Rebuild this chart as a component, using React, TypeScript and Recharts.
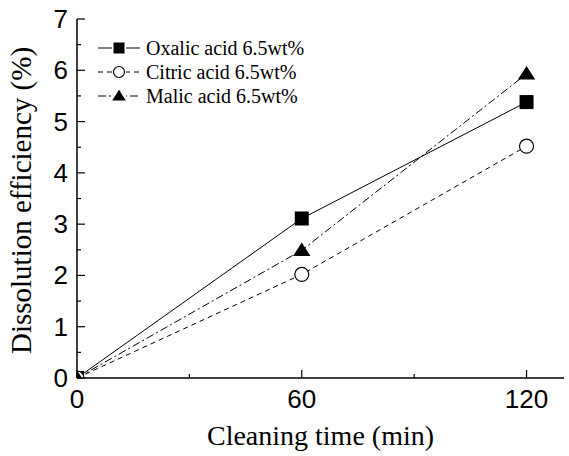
import { LineChart, Line, XAxis, YAxis, Legend } from 'recharts';

// cleaning time (min)
const times = [0, 60, 120];
// dissolution efficiency (%)
const oxalic = [0, 3.11, 5.38];
const citric = [0, 2.02, 4.52];
const malic = [0, 2.49, 5.93];

const xTicks = [0, 30, 60, 90, 120];
const xMajor = [0, 60, 120];
const yTicks = [0, 0.5, 1, 1.5, 2, 2.5, 3, 3.5, 4, 4.5, 5, 5.5, 6, 6.5, 7];
const yMajor = [0, 1, 2, 3, 4, 5, 6, 7];

const data = times.map((t, i) => ({ t, oxalic: oxalic[i], citric: citric[i], malic: malic[i] }));

const SANS = '"Liberation Sans", Arial, sans-serif';
const SERIF = '"Liberation Serif", "Times New Roman", serif';

const series = [
  { key: 'oxalic', name: 'Oxalic acid 6.5wt%', dash: undefined, marker: 'square' },
  { key: 'citric', name: 'Citric acid 6.5wt%', dash: '5 4', marker: 'circle' },
  { key: 'malic', name: 'Malic acid 6.5wt%', dash: '8 3 2 3', marker: 'triangle' },
];

function Marker({ type, cx, cy, s }: { type: string; cx: number; cy: number; s: number }) {
  if (type === 'square') return <rect x={cx - s / 2} y={cy - s / 2} width={s} height={s} fill="#000" />;
  if (type === 'circle') return <circle cx={cx} cy={cy} r={s / 2} fill="#fff" stroke="#000" strokeWidth={1.2} />;
  const h = s * 0.9;
  return (
    <polygon
      points={`${cx},${cy - h * 0.62} ${cx - s * 0.62},${cy + h * 0.45} ${cx + s * 0.62},${cy + h * 0.45}`}
      fill="#000"
    />
  );
}

function BottomTick({ x, y, payload }: any) {
  const major = xMajor.includes(payload.value);
  return (
    <g>
      <line x1={x} x2={x} y1={y} y2={y - (major ? 8 : 4)} stroke="#000" strokeWidth={1.2} />
      {major && (
        <text x={x} y={y + 30} textAnchor="middle" fontFamily={SANS} fontSize={26} fill="#000">
          {payload.value}
        </text>
      )}
    </g>
  );
}

function TopTick({ x, y, payload }: any) {
  const major = xMajor.includes(payload.value);
  return <line x1={x} x2={x} y1={y} y2={y + (major ? 8 : 4)} stroke="#000" strokeWidth={1.2} />;
}

function LeftTick({ x, y, payload }: any) {
  const major = yMajor.includes(payload.value);
  return (
    <g>
      <line x1={x} x2={x + (major ? 8 : 4)} y1={y} y2={y} stroke="#000" strokeWidth={1.2} />
      {major && (
        <text x={x - 9} y={y + 9} textAnchor="end" fontFamily={SANS} fontSize={26} fill="#000">
          {payload.value}
        </text>
      )}
    </g>
  );
}

function RightTick({ x, y, payload }: any) {
  const major = yMajor.includes(payload.value);
  return <line x1={x} x2={x - (major ? 8 : 4)} y1={y} y2={y} stroke="#000" strokeWidth={1.2} />;
}

function YTitle({ viewBox }: any) {
  const cx = 31;
  const cy = viewBox.y + viewBox.height / 2 + 2;
  return (
    <text
      x={cx}
      y={cy}
      transform={`rotate(-90, ${cx}, ${cy})`}
      textAnchor="middle"
      fontFamily={SERIF}
      fontSize={29}
      fill="#000"
    >
      Dissolution efficiency (%)
    </text>
  );
}

function LegendBox() {
  return (
    <div style={{ fontFamily: SERIF, fontSize: 20, lineHeight: '24px', color: '#000', whiteSpace: 'nowrap' }}>
      {series.map((s) => (
        <div key={s.key} style={{ display: 'flex', alignItems: 'center', height: 24 }}>
          <svg width={46} height={20} style={{ marginRight: 4 }}>
            <line x1={2} x2={44} y1={10} y2={10} stroke="#000" strokeWidth={1} strokeDasharray={s.dash} />
            <rect x={16} y={2} width={14} height={16} fill="#fff" />
            <Marker type={s.marker} cx={23} cy={10} s={11} />
          </svg>
          <span>{s.name}</span>
        </div>
      ))}
    </div>
  );
}

export default function App() {
  return (
    <div style={{ position: 'absolute', left: 0, top: 0, background: '#fff' }}>
      <LineChart width={569} height={456} data={data} margin={{ top: 19, right: 5, left: 0, bottom: 0 }}>
        <XAxis
          dataKey="t"
          type="number"
          domain={[0, 130]}
          ticks={xTicks}
          interval={0}
          allowDataOverflow
          tickSize={0}
          tickMargin={0}
          tickLine={false}
          tick={<BottomTick />}
          height={78}
          axisLine={{ stroke: '#000', strokeWidth: 1.5 }}
          label={{
            value: 'Cleaning time (min)',
            position: 'insideBottom',
            offset: 11,
            style: { fontFamily: SERIF, fontSize: 28, fill: '#000' },
          }}
        />
        <XAxis
          xAxisId="top"
          orientation="top"
          dataKey="t"
          type="number"
          domain={[0, 130]}
          ticks={xTicks}
          interval={0}
          tickSize={0}
          tickMargin={0}
          tickLine={false}
          tick={<TopTick />}
          height={0}
          axisLine={{ stroke: '#000', strokeWidth: 1.5 }}
        />
        <YAxis
          type="number"
          domain={[0, 7]}
          ticks={yTicks}
          interval={0}
          allowDataOverflow
          tickSize={0}
          tickMargin={0}
          tickLine={false}
          tick={<LeftTick />}
          width={77}
          axisLine={{ stroke: '#000', strokeWidth: 1.5 }}
          label={{ content: <YTitle /> }}
        />
        <YAxis
          yAxisId="right"
          orientation="right"
          type="number"
          domain={[0, 7]}
          ticks={yTicks}
          interval={0}
          tickSize={0}
          tickMargin={0}
          tickLine={false}
          tick={<RightTick />}
          width={0}
          axisLine={{ stroke: '#000', strokeWidth: 1.5 }}
        />
        <Legend
          content={<LegendBox />}
          layout="vertical"
          align="center"
          verticalAlign="middle"
          wrapperStyle={{ left: 96, top: 36, width: 'auto' }}
        />
        {series.map((s) => (
          <Line
            key={s.key}
            dataKey={s.key}
            name={s.name}
            type="linear"
            stroke="#000"
            strokeWidth={1}
            strokeDasharray={s.dash}
            isAnimationActive={false}
            dot={(p: any) => <Marker key={`${s.key}-${p.index}`} type={s.marker} cx={p.cx} cy={p.cy} s={14} />}
            activeDot={false}
          />
        ))}
      </LineChart>
    </div>
  );
}
